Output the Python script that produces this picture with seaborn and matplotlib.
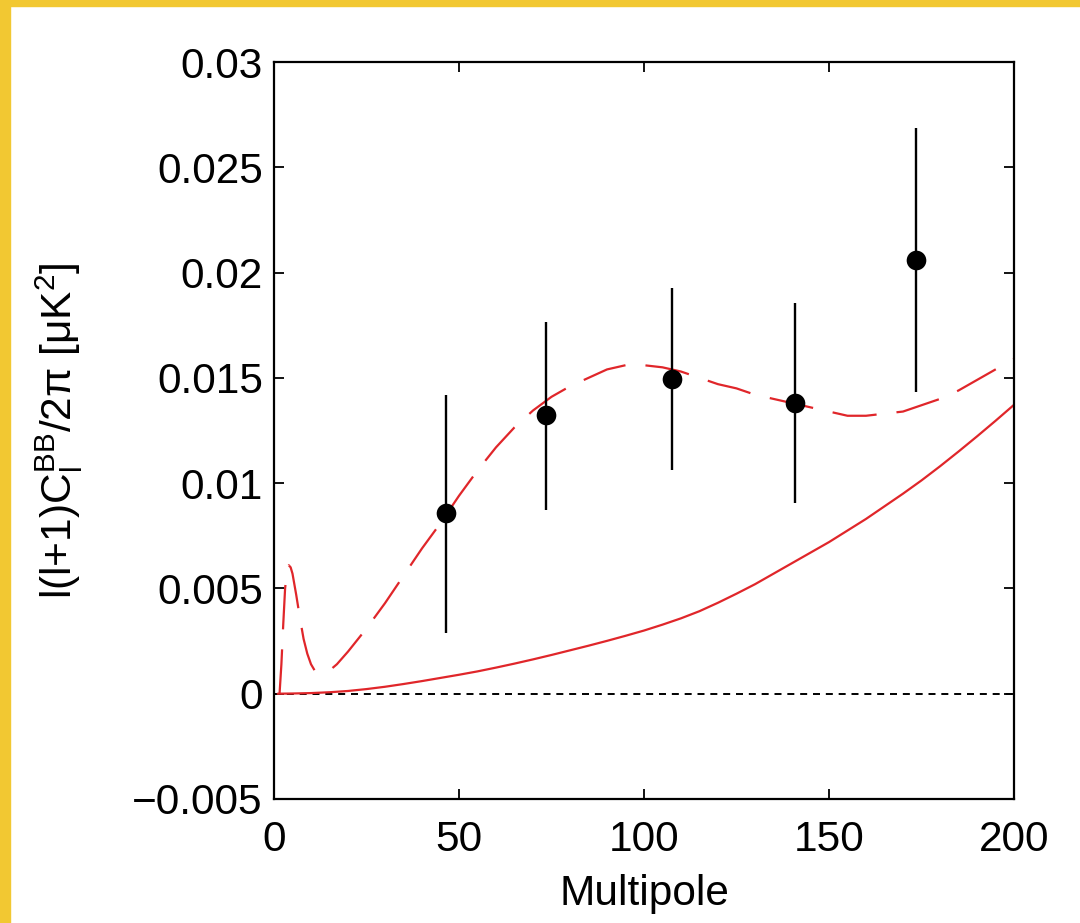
import numpy as np
import pandas as pd
import matplotlib
matplotlib.use("Agg")
import matplotlib.pyplot as plt
from matplotlib.patches import Rectangle
import seaborn as sns

# ---------------- data ----------------
# measured band powers
pt_l = [46.5, 73.5, 107.6, 140.8, 173.5]
pt_val = [0.0086, 0.01325, 0.01496, 0.01382, 0.0206]
pt_lo = [0.0029, 0.00874, 0.01064, 0.00907, 0.01434]
pt_hi = [0.0142, 0.01766, 0.01928, 0.01857, 0.02688]

# dashed model (lensing + tensor)
dash_l = [1.5, 2, 2.5, 3, 3.5, 4, 4.5, 5, 6, 7, 8, 9, 10, 11, 12, 13, 14, 15, 17,
          20, 25, 30, 35, 40, 45, 50, 55, 60, 65, 70, 75, 80, 85, 90, 95, 100,
          105, 110, 115, 120, 125, 130, 135, 140, 145, 150, 155, 160, 165, 170,
          175, 180, 185, 190, 195, 200]
dash_val = [0.0, 0.0014, 0.0033, 0.0050, 0.0058, 0.0061, 0.0060, 0.0057, 0.0047,
            0.0036, 0.0026, 0.0019, 0.0014, 0.0011, 0.00102, 0.001, 0.00102,
            0.0011, 0.0014, 0.002, 0.0031, 0.0043, 0.0056, 0.0069, 0.0081,
            0.0094, 0.0106, 0.0117, 0.01265, 0.01345, 0.0141, 0.0146, 0.0150,
            0.0154, 0.0156, 0.0156, 0.0155, 0.0153, 0.0150, 0.0147, 0.0145,
            0.0142, 0.0140, 0.0138, 0.0136, 0.0134, 0.0132, 0.0132, 0.0133,
            0.0134, 0.0137, 0.0140, 0.0144, 0.0149, 0.0154, 0.0159]

# solid model (lensing)
solid_l = [1, 5, 10, 15, 20, 25, 30, 35, 40, 45, 50, 55, 60, 65, 70, 75, 80, 85,
           90, 95, 100, 105, 110, 115, 120, 125, 130, 135, 140, 145, 150, 155,
           160, 165, 170, 175, 180, 185, 190, 195, 200]
solid_val = [0.0, 0.00001, 0.00003, 0.00007, 0.00013, 0.00022, 0.00033, 0.00046,
             0.0006, 0.00075, 0.0009, 0.00106, 0.00124, 0.00143, 0.00163,
             0.00184, 0.00206, 0.00228, 0.00251, 0.00275, 0.0030, 0.00328,
             0.00358, 0.00392, 0.00432, 0.00475, 0.0052, 0.0057, 0.0062,
             0.0067, 0.0072, 0.00775, 0.0083, 0.0089, 0.0095, 0.01013,
             0.0108, 0.0115, 0.01222, 0.01296, 0.01372]

zero_l = [0, 200]
zero_val = [0, 0]

x_ticks = [0, 50, 100, 150, 200]
y_ticks = [-0.005, 0, 0.005, 0.01, 0.015, 0.02, 0.025, 0.03]
y_ticklabels = ["\u22120.005", "0", "0.005", "0.01", "0.015", "0.02", "0.025", "0.03"]

# ---------------- style ----------------
sns.set_style("ticks")
plt.rcParams["font.family"] = ["Liberation Sans", "DejaVu Sans"]
plt.rcParams["mathtext.fontset"] = "custom"
plt.rcParams["mathtext.rm"] = "Liberation Sans"
plt.rcParams["mathtext.it"] = "Liberation Sans"
plt.rcParams["mathtext.bf"] = "Liberation Sans:bold"

FS = 30.5
fig = plt.figure(figsize=(10.8, 9.23), dpi=100)
ax = fig.add_axes([274 / 1080, 1 - 799 / 923, (1014 - 274) / 1080, (799 - 62) / 923])

red = "#e0262a"
df_dash = pd.DataFrame({"l": dash_l, "v": dash_val})
df_solid = pd.DataFrame({"l": solid_l, "v": solid_val})
df_zero = pd.DataFrame({"l": zero_l, "v": zero_val})
df_pts = pd.DataFrame({"l": pt_l, "v": pt_val})

sns.lineplot(data=df_zero, x="l", y="v", ax=ax, color="black", lw=1.4,
             estimator=None, sort=False)
ax.lines[-1].set_dashes((3.6, 3.0))
sns.lineplot(data=df_solid, x="l", y="v", ax=ax, color=red, lw=1.6,
             estimator=None, sort=False)
sns.lineplot(data=df_dash, x="l", y="v", ax=ax, color=red, lw=1.6,
             estimator=None, sort=False)
ax.lines[-1].set_dashes((20, 9))

ax.vlines(pt_l, pt_lo, pt_hi, color="black", lw=1.7, zorder=3)
sns.scatterplot(data=df_pts, x="l", y="v", ax=ax, color="black", s=200,
                edgecolor="black", linewidth=0, zorder=4)

ax.set_xlim(0, 200)
ax.set_ylim(-0.005, 0.03)
ax.set_xticks(x_ticks)
ax.set_xticklabels([str(t) for t in x_ticks])
ax.set_yticks(y_ticks)
ax.set_yticklabels(y_ticklabels)
ax.tick_params(direction="in", length=7, width=1.3, top=True, right=True,
               labelsize=FS, colors="black")
ax.tick_params(axis="x", pad=15)
ax.tick_params(axis="y", pad=8)
for s in ax.spines.values():
    s.set_linewidth(1.6)
    s.set_color("black")

ax.set_xlabel("Multipole", fontsize=FS, labelpad=10, color="black")
ax.set_ylabel(r"l(l+1)C$_\mathregular{l}^\mathregular{BB}$/2$\mathregular{\pi}$ [$\mathregular{\mu}$K$^\mathregular{2}$]",
              fontsize=FS, labelpad=34, color="black")

# yellow frame edges of the screenshot
fig.patches.append(Rectangle((0, 1 - 6 / 923), 1, 6 / 923, transform=fig.transFigure,
                             color="#f2c832", zorder=0))
fig.patches.append(Rectangle((0, 0), 10 / 1080, 1, transform=fig.transFigure,
                             color="#f2c832", zorder=0))

fig.savefig("out.png", dpi=100)
